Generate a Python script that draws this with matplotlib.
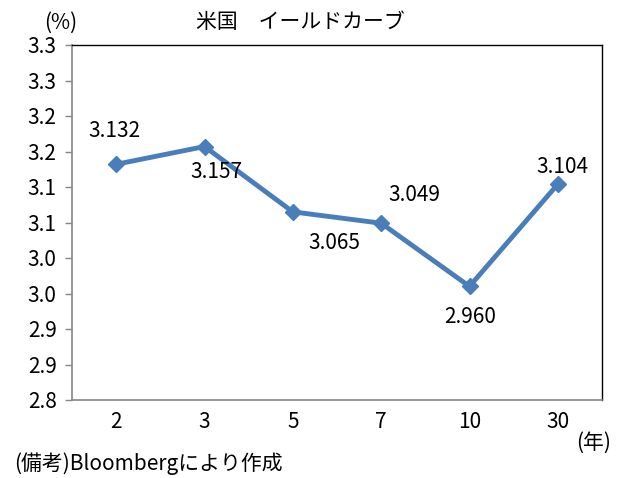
import matplotlib
matplotlib.use("Agg")
import matplotlib.pyplot as plt
from matplotlib.ticker import FixedLocator
from matplotlib import font_manager

names = {f.name for f in font_manager.fontManager.ttflist}
fams = [n for n in ['Noto Sans Mono CJK JP', 'Noto Sans CJK JP'] if n in names] + ['DejaVu Sans']
plt.rcParams['font.family'] = fams

categories = ["2", "3", "5", "7", "10", "30"]
yields = [3.132, 3.157, 3.065, 3.049, 2.960, 3.104]
value_labels = ["3.132", "3.157", "3.065", "3.049", "2.960", "3.104"]
y_ticks = [2.80, 2.85, 2.90, 2.95, 3.00, 3.05, 3.10, 3.15, 3.20, 3.25, 3.30]
y_tick_labels = ["2.8", "2.9", "2.9", "3.0", "3.0", "3.1", "3.1", "3.2", "3.2", "3.3", "3.3"]
# label offsets in pixels (dx, dy)
label_offsets = [(-2, 33), (12, -25), (41, -31), (33, 28), (1, -31), (5, 17)]

title = "米国　イールドカーブ"
unit_y = "(%)"
unit_x = "(年)"
note = "(備考)Bloombergにより作成"

fig = plt.figure(figsize=(6.26, 4.78), dpi=100)
ax = fig.add_axes([72/626, 1-400/478, (602-72)/626, (400-45)/478])

xs = list(range(len(categories)))
color = "#4a7ebb"
ax.plot(xs, yields, color=color, lw=3.5, marker="D", ms=8.5,
        markerfacecolor=color, markeredgecolor=color, zorder=3)

fs = 15
for x, y, lab, (dx, dy) in zip(xs, yields, value_labels, label_offsets):
    ax.annotate(lab, (x, y), xytext=(dx, dy), textcoords="offset pixels",
                ha="center", va="center", fontsize=fs, color="black")

ax.set_xlim(-0.5, len(categories) - 0.5)
ax.set_ylim(2.80, 3.30)
ax.set_xticks(xs)
ax.set_xticklabels(categories, fontsize=fs)
ax.yaxis.set_major_locator(FixedLocator(y_ticks))
ax.set_yticklabels(y_tick_labels, fontsize=fs)

ax.tick_params(axis="x", length=0, pad=8)
ax.tick_params(axis="y", length=5, width=1, color="#868686", pad=6, direction="out")

for s in ["left", "bottom"]:
    ax.spines[s].set_color("#868686")
    ax.spines[s].set_linewidth(1.2)
for s in ["top", "right"]:
    ax.spines[s].set_color("black")
    ax.spines[s].set_linewidth(1.0)

fig.text(300/626, 1-22/478, title, ha="center", va="center", fontsize=fs)
fig.text(61/626, 1-23/478, unit_y, ha="center", va="center", fontsize=fs)
fig.text(594/626, 1-443/478, unit_x, ha="center", va="center", fontsize=fs)
fig.text(14/626, 1-464/478, note, ha="left", va="center", fontsize=fs)

fig.savefig("out.png", dpi=100)
